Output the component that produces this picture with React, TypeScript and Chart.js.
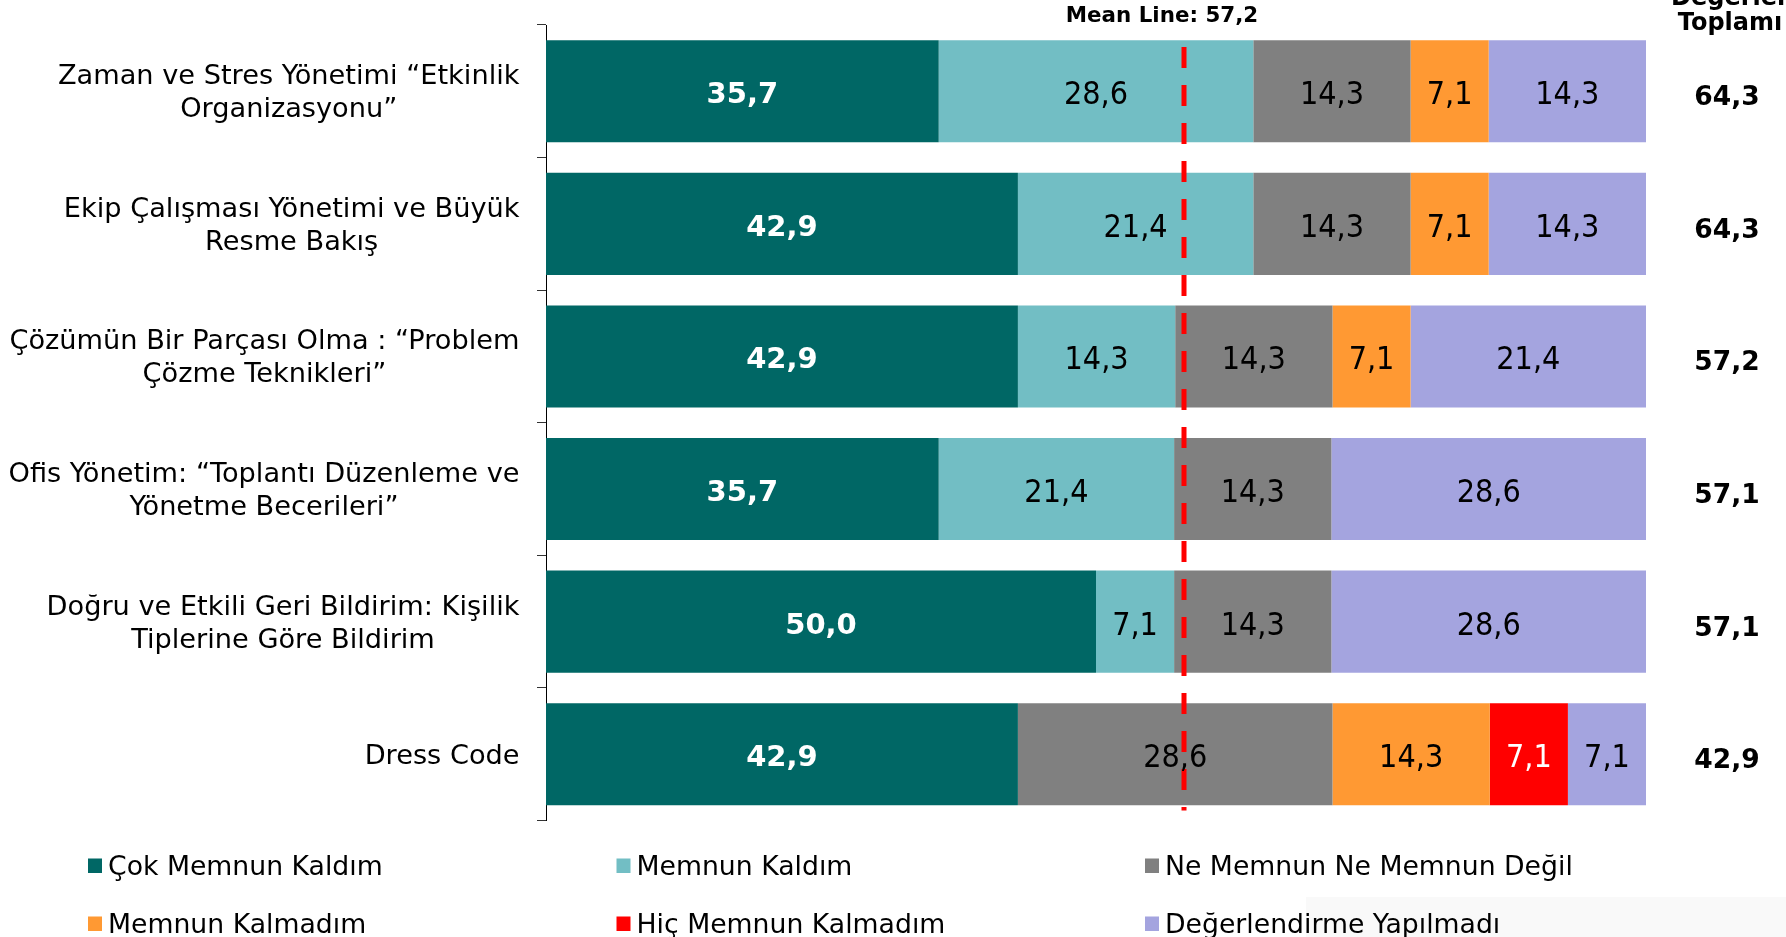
import { useEffect, useRef } from "react";
import { Chart, registerables } from "chart.js";

Chart.register(...registerables);

// ---------- data ----------
const categories: string[][] = [
  ["Zaman ve Stres Yönetimi “Etkinlik", "Organizasyonu”"],
  ["Ekip Çalışması Yönetimi ve Büyük", "Resme Bakış"],
  ["Çözümün Bir Parçası Olma : “Problem", "Çözme Teknikleri”"],
  ["Ofis Yönetim: “Toplantı Düzenleme ve", "Yönetme Becerileri”"],
  ["Doğru ve Etkili Geri Bildirim: Kişilik", "Tiplerine Göre Bildirim"],
  ["Dress Code"],
];

const seriesNames = [
  "Çok Memnun Kaldım",
  "Memnun Kaldım",
  "Ne Memnun Ne Memnun Değil",
  "Memnun Kalmadım",
  "Hiç Memnun Kalmadım",
  "Değerlendirme Yapılmadı",
];

const cokMemnun = [35.7, 42.9, 42.9, 35.7, 50.0, 42.9];
const memnun = [28.6, 21.4, 14.3, 21.4, 7.1, 0];
const neMemnunNeDegil = [14.3, 14.3, 14.3, 14.3, 14.3, 28.6];
const memnunKalmadim = [7.1, 7.1, 7.1, 0, 0, 14.3];
const hicMemnunKalmadim = [0, 0, 0, 0, 0, 7.1];
const degerlendirmeYok = [14.3, 14.3, 21.4, 28.6, 28.6, 7.1];

const totals = [64.3, 64.3, 57.2, 57.1, 57.1, 42.9];
const totalsHeader = ["Değerler", "Toplamı"];

const meanValue = 57.2; // value in the label
const meanLineAt = 58.0; // where the dashed line sits on the 0–100 axis in the picture

const seriesColors = ["#006765", "#72BEC4", "#808080", "#FF9933", "#FF0000", "#A4A4DF"];
const labelColors = ["#FFFFFF", "#000000", "#000000", "#000000", "#FFFFFF", "#000000"];

const fmt = (v: number) => v.toFixed(1).replace(".", ",");

const overlayPlugin = {
  id: "overlay",
  beforeDraw(chart: any) {
    const ctx = chart.ctx;
    ctx.save();
    ctx.fillStyle = "#ffffff";
    ctx.fillRect(0, 0, chart.width, chart.height);
    ctx.fillStyle = "#f9f9f9";
    ctx.fillRect(1306, 897, chart.width - 1306, chart.height - 897);
    ctx.restore();
  },
  afterDatasetsDraw(chart: any) {
    const ctx = chart.ctx;
    const xs = chart.scales.x;
    const ys = chart.scales.y;
    const area = chart.chartArea;
    ctx.save();

    // mean line
    const mx = xs.getPixelForValue(meanLineAt);
    ctx.strokeStyle = "#FF0000";
    ctx.lineWidth = 5;
    ctx.setLineDash([21, 17]);
    ctx.beginPath();
    ctx.moveTo(mx, area.top + 22);
    ctx.lineTo(mx, area.bottom - 10);
    ctx.stroke();
    ctx.setLineDash([]);

    // data labels
    chart.data.datasets.forEach((ds: any, di: number) => {
      const meta = chart.getDatasetMeta(di);
      meta.data.forEach((bar: any, i: number) => {
        const v = ds.data[i];
        if (!v) return;
        const p = bar.getProps(["x", "base", "y"], true);
        const cx = (p.x + p.base) / 2;
        ctx.textAlign = "center";
        ctx.textBaseline = "alphabetic";
        ctx.fillStyle = labelColors[di];
        if (di === 0) {
          ctx.font = "bold 29px 'DejaVu Sans'";
          ctx.fillText(fmt(v), cx, p.y + 12);
        } else {
          ctx.font = "32px 'DejaVu Sans Condensed'";
          ctx.fillText(fmt(v), cx, p.y + 13);
        }
      });
    });

    // mean label
    ctx.fillStyle = "#000";
    ctx.font = "bold 21.4px 'DejaVu Sans'";
    ctx.textAlign = "center";
    ctx.fillText("Mean Line: " + fmt(meanValue), mx - 22, 22);

    // totals header + values
    const tx = area.right + 81;
    ctx.font = "bold 24px 'DejaVu Sans'";
    ctx.fillText(totalsHeader[0], tx + 3, 5);
    ctx.fillText(totalsHeader[1], tx + 3, 29.5);
    ctx.font = "bold 26.5px 'DejaVu Sans'";
    totals.forEach((t, i) => {
      const y = ys.getPixelForValue(i);
      ctx.fillText(fmt(t), tx, y + 14);
    });

    // category labels (lines centered within a right-aligned block)
    ctx.font = "27.2px 'DejaVu Sans'";
    const right = 519.5;
    const lh = 33;
    categories.forEach((lines, i) => {
      const y = ys.getPixelForValue(i);
      const w = Math.max(...lines.map((l) => ctx.measureText(l).width));
      const cx = right - w / 2;
      const n = lines.length;
      lines.forEach((l, k) => {
        const ly = y + (k - (n - 1) / 2) * lh;
        ctx.fillText(l, cx, ly + 9.5);
      });
    });

    // legend
    ctx.font = "26.7px 'DejaVu Sans'";
    ctx.textAlign = "left";
    const colX = [88, 616.5, 1145];
    const rowBase = [874.5, 932.5];
    seriesNames.forEach((name, i) => {
      const c = i % 3;
      const r = Math.floor(i / 3);
      const bx = colX[c];
      const by = rowBase[r];
      ctx.fillStyle = seriesColors[i];
      ctx.fillRect(bx, by - 16, 14, 14.5);
      ctx.fillStyle = "#000";
      ctx.fillText(name, bx + 20, by);
    });

    ctx.restore();
  },
};

export default function App() {
  const ref = useRef<HTMLCanvasElement | null>(null);
  useEffect(() => {
    if (!ref.current) return;
    const series = [cokMemnun, memnun, neMemnunNeDegil, memnunKalmadim, hicMemnunKalmadim, degerlendirmeYok];
    const chart = new Chart(ref.current, {
      type: "bar",
      data: {
        labels: categories.map((c) => c.join(" ")),
        datasets: series.map((d, i) => ({
          label: seriesNames[i],
          data: d,
          backgroundColor: seriesColors[i],
          borderWidth: 0,
          barPercentage: 0.77,
          categoryPercentage: 1,
        })),
      },
      options: {
        indexAxis: "y",
        responsive: false,
        animation: false,
        events: [],
        devicePixelRatio: 1,
        layout: { padding: { left: 0, right: 140, top: 25, bottom: 116.5 } },
        plugins: { legend: { display: false }, tooltip: { enabled: false } },
        scales: {
          x: { stacked: true, min: 0, max: 100, display: false },
          y: {
            stacked: true,
            grid: { display: true, drawOnChartArea: false, drawTicks: true, tickLength: 9, color: "#333", offset: true },
            border: { display: true, color: "#000", width: 1 },
            ticks: { display: false },
            afterFit: (s: any) => {
              s.width = 546;
            },
          },
        },
      },
      plugins: [overlayPlugin],
    } as any);
    return () => chart.destroy();
  }, []);
  return (
    <div style={{ position: "absolute", left: 0, top: 0, width: 1786, height: 937 }}>
      <canvas ref={ref} width={1786} height={937} style={{ width: 1786, height: 937, display: "block" }} />
    </div>
  );
}
